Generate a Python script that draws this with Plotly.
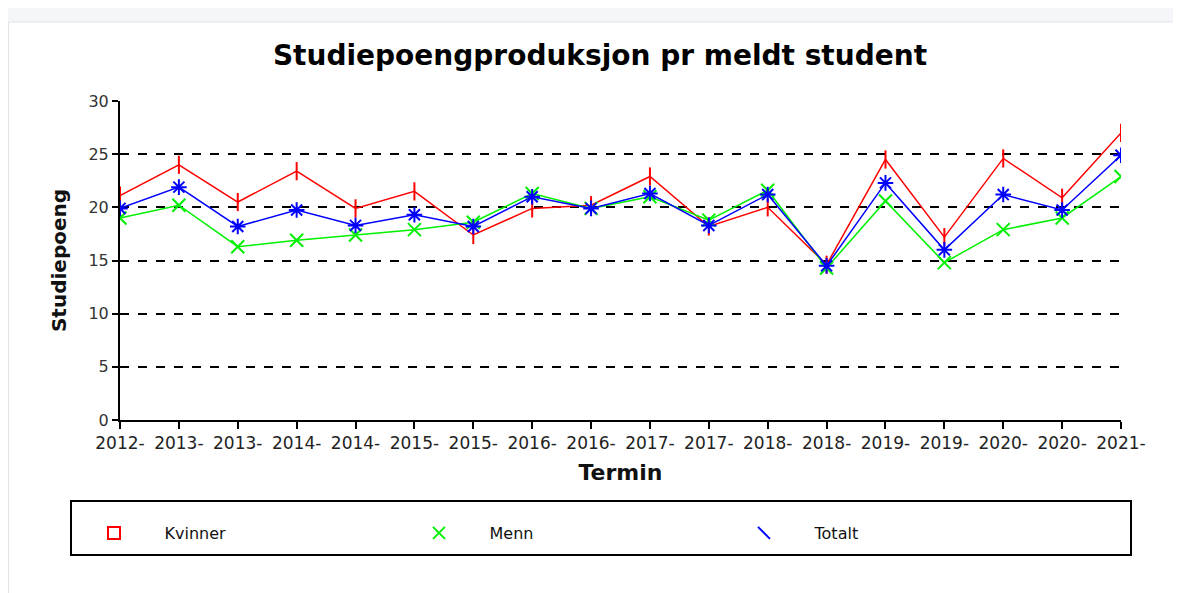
import plotly.graph_objects as go

terms = ["2012-", "2013-", "2013-", "2014-", "2014-", "2015-", "2015-", "2016-", "2016-",
         "2017-", "2017-", "2018-", "2018-", "2019-", "2019-", "2020-", "2020-", "2021-"]
kvinner = [21.1, 24.0, 20.5, 23.4, 19.9, 21.5, 17.4, 19.9, 20.2, 22.9, 18.2, 20.0,
           14.6, 24.5, 17.2, 24.6, 20.9, 27.0]
menn = [19.0, 20.2, 16.3, 16.9, 17.4, 17.9, 18.6, 21.3, 19.9, 21.0, 18.8, 21.6,
        14.3, 20.6, 14.8, 17.9, 19.0, 22.9]
totalt = [19.9, 21.9, 18.2, 19.75, 18.3, 19.3, 18.2, 21.0, 19.9, 21.3, 18.3, 21.2,
          14.5, 22.3, 16.0, 21.2, 19.75, 24.9]
yticks = [0, 5, 10, 15, 20, 25, 30]

xs = list(range(len(terms)))

# the page body has an 8px margin, so the figure is offset by 8px
OFF = 8
W, H = 1181 - OFF, 593 - OFF
L, R, T, B = 120 - OFF, 1121 - OFF, 101 - OFF, 420 - OFF


def px(x):
    return (x - OFF - L) / (R - L)


def py(y):
    return (B - (y - OFF)) / (B - T)


FONT = "DejaVu Sans, Verdana, sans-serif"

fig = go.Figure()

series = [
    ("Kvinner", kvinner, "#ff0000", "line-ns-open", 13),
    ("Menn", menn, "#00f000", "x-thin-open", 13),
    ("Totalt", totalt, "#0000ff", "asterisk-open", 13),
]
for name, vals, col, sym, sz in series:
    fig.add_trace(go.Scatter(
        x=xs, y=vals, mode="lines+markers", name=name, showlegend=False,
        line=dict(color=col, width=1.5),
        marker=dict(symbol=sym, size=sz, color=col, line=dict(color=col, width=2)),
    ))

pad = "\u00a0" * 6
legend_syms = [("Kvinner", "#ff0000", "square-open"), ("Menn", "#00f000", "x-thin-open"),
               ("Totalt", "#0000ff", "line-nw-open")]
for name, col, sym in legend_syms:
    fig.add_trace(go.Scatter(
        x=[None], y=[None], mode="markers", name=pad + name, showlegend=True,
        marker=dict(symbol=sym, size=13, color=col, line=dict(color=col, width=1.5)),
    ))

shapes = [
    # page background panel
    dict(type="rect", xref="paper", yref="paper", x0=px(0), x1=px(1190), y0=py(0), y1=py(600),
         fillcolor="#f4f6f9", line=dict(width=0), layer="below"),
    dict(type="rect", xref="paper", yref="paper", x0=px(8.5), x1=px(1190), y0=py(22), y1=py(600),
         fillcolor="#ffffff", line=dict(color="#e0e3e8", width=1), layer="below"),
    # legend box
    dict(type="rect", xref="paper", yref="paper", x0=px(71), x1=px(1131), y0=py(501), y1=py(555),
         line=dict(color="#000000", width=2), fillcolor="rgba(0,0,0,0)"),
]

fig.update_layout(
    width=W, height=H,
    margin=dict(l=L, r=W - R, t=T, b=H - B),
    paper_bgcolor="#ffffff", plot_bgcolor="#ffffff",
    font=dict(family=FONT, color="#222222"),
    title=dict(text="<b>Studiepoengproduksjon pr meldt student</b>",
               x=px(600), xref="paper", xanchor="center", y=1 - (55 - OFF) / H, yanchor="middle",
               font=dict(size=28, color="#000000", family=FONT)),
    xaxis=dict(range=[0, len(terms) - 1], tickmode="array", tickvals=xs, ticktext=terms,
               showgrid=False, zeroline=False, showline=True, linecolor="#000000", linewidth=2,
               ticks="outside", ticklen=7, tickcolor="#000000", tickwidth=1.5,
               tickfont=dict(size=17, color="#222222", family=FONT),
               title=dict(text="<b>Termin</b>", font=dict(size=22, color="#111111", family=FONT),
                          standoff=12),
               fixedrange=True),
    yaxis=dict(range=[0, 30], tickmode="array", tickvals=yticks,
               showgrid=True, gridcolor="#000000", griddash="dash", gridwidth=1.5,
               zeroline=False, showline=True, linecolor="#000000", linewidth=2,
               ticks="outside", ticklen=6, tickcolor="#000000", tickwidth=1.5,
               tickfont=dict(size=16, color="#333333", family=FONT),
               title=dict(text="<b>Studiepoeng</b>", font=dict(size=20, color="#111111", family=FONT),
                          standoff=16),
               fixedrange=True),
    legend=dict(orientation="h", x=px(94), xanchor="left", y=py(533), yanchor="middle",
                entrywidth=280, entrywidthmode="pixels", bgcolor="rgba(0,0,0,0)",
                font=dict(size=16, color="#111111", family=FONT), itemsizing="constant"),
    shapes=shapes,
)

fig.write_html("out.html")
